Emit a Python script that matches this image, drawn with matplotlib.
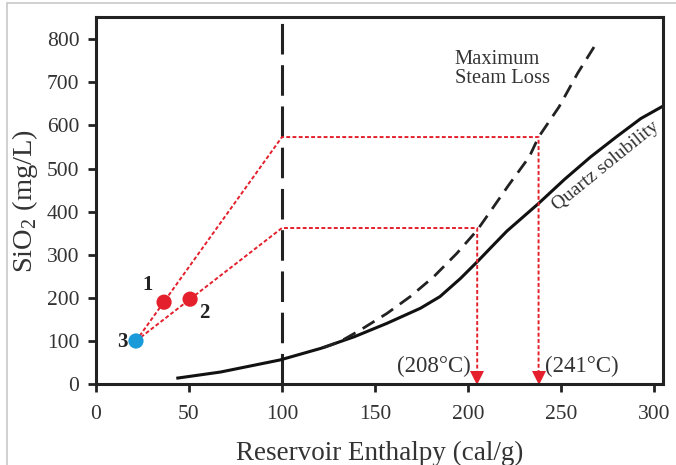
import numpy as np
import matplotlib.pyplot as plt
from matplotlib.patches import Rectangle

plt.rcParams['font.family'] = ['Liberation Serif', 'DejaVu Serif']
plt.rcParams['mathtext.fontset'] = 'custom'
plt.rcParams['mathtext.rm'] = 'Liberation Serif'

# sample points (enthalpy cal/g, SiO2 mg/L)
sample_x = [36.6, 50.6, 21.5]
sample_y = [190, 197, 100]
sample_lab = ['1', '2', '3']
sample_col = ['#e3202b', '#e3202b', '#1a9ad8']

# quartz solubility curve
quartz_x = [44, 67, 99, 121, 139, 156.5, 174.5, 185, 196, 206, 212, 221, 238, 252,
            266, 280, 293, 305]
quartz_y = [14, 28, 56, 83, 110, 141, 176, 203, 245, 288, 315, 355, 419, 475,
            527, 574, 616, 645]

# maximum steam loss curve
steam_x = [122, 131, 142, 156.5, 169, 181.6, 194, 205, 212, 222, 233, 238, 249, 259, 269]
steam_y = [84, 98, 125, 164, 203, 249, 303, 357, 400, 462, 527, 573, 643, 721, 790]

# mixing-line construction: SiO2 at 100 cal/g, resulting enthalpies
mix_y = [573, 362]
mix_h = [238, 205]
temp_labels = ['(241°C)', '(208°C)']

fig = plt.figure(figsize=(6.76, 4.65), dpi=100)
ax = fig.add_axes([0.142, 0.174, 0.839, 0.789])

# thin grey frame of the original figure
fig.patches.append(Rectangle((7 / 676, -0.05), 1.1, (465 - 3) / 465 + 0.05,
                             transform=fig.transFigure, fill=False,
                             edgecolor='#c8c8c8', linewidth=1.2))

red = '#e3202b'
dot = (0, (2, 1.2))

ax.axvline(100, color='#222222', linewidth=2.2, dashes=(10, 3.5))
ax.plot(quartz_x, quartz_y, color='#111111', linewidth=2.2, solid_joinstyle='round')
ax.plot(steam_x, steam_y, color='#222222', linewidth=2.0, dashes=(5, 3))

for my, mh in zip(mix_y, mix_h):
    ax.plot([sample_x[2], 100, mh, mh], [sample_y[2], my, my, 30],
            color=red, linewidth=1.4, linestyle=dot)
    ax.plot(mh, 14, marker='v', markersize=10, color=red, markeredgewidth=0)

ax.scatter(sample_x, sample_y, s=120, c=sample_col, zorder=5, linewidths=0)

lab_pos = [(27.5, 230), (58, 165), (14, 98)]
for (tx, ty), t in zip(lab_pos, sample_lab):
    ax.text(tx, ty, t, fontsize=15, fontweight='bold', ha='center', va='center',
            color='#222222')

ax.text(201.5, 40, temp_labels[1], fontsize=16.5, ha='right', va='center', color='#333333')
ax.text(241.5, 40, temp_labels[0], fontsize=16.5, ha='left', va='center', color='#333333')

ax.text(193, 732, 'Maximum\nSteam Loss', fontsize=14.8, ha='left', va='center',
        color='#333333', linespacing=1.0)
ax.text(274, 505, 'Quartz solubility', fontsize=14, rotation=39, ha='center',
        va='center', color='#333333', rotation_mode='anchor')

ax.set_xlim(0, 305)
ax.set_ylim(0, 851)
ax.set_xticks(range(0, 301, 50))
ax.set_yticks(range(0, 801, 100))
ax.tick_params(labelsize=15.5, direction='out', length=6, width=2, colors='#222222',
               labelcolor='#333333', pad=6)
ax.tick_params(axis='x', pad=9)
for s in ax.spines.values():
    s.set_linewidth(2.2)
    s.set_color('#222222')

ax.set_xlabel('Reservoir Enthalpy (cal/g)', fontsize=19.5, color='#333333', labelpad=12)
ax.set_ylabel('SiO$_2$ (mg/L)', fontsize=20.5, color='#333333', labelpad=5)

fig.savefig('out.png', dpi=100)
